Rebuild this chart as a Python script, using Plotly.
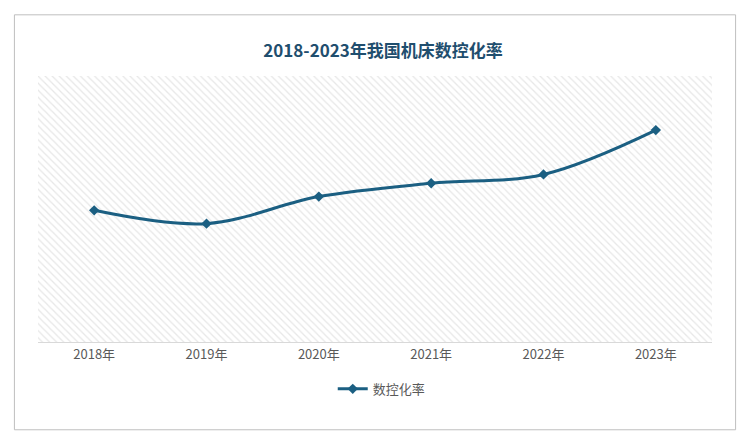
import plotly.graph_objects as go

years = ['2018年', '2019年', '2020年', '2021年', '2022年', '2023年']
rate = [29.7, 26.7, 32.8, 35.8, 37.8, 47.8]

fig = go.Figure()

# hatched background via a single bar on the base axes
fig.add_trace(go.Bar(
    x=[0], y=[1], width=[1],
    marker=dict(color='rgba(0,0,0,0)', line=dict(width=0),
                pattern=dict(shape='\\', fgcolor='#cfcfcf', bgcolor='white', size=5, solidity=0.25)),
    showlegend=False, hoverinfo='skip'
))

fig.add_trace(go.Scatter(
    x=years, y=rate, name='数控化率', mode='lines+markers', xaxis='x2', yaxis='y2',
    line=dict(color='#1b5f82', width=3, shape='spline'),
    marker=dict(symbol='diamond', size=8, color='#1b5f82')
))

fig.update_layout(
    width=750, height=440,
    paper_bgcolor='white', plot_bgcolor='white',
    margin=dict(l=30, r=46, t=68, b=106),
    font=dict(family='Noto Sans CJK SC', color='#595959'),
    title=dict(text='<b>2018-2023年我国机床数控化率</b>', x=0.5, y=0.915,
               xanchor='center', font=dict(size=17, color='#1f4e6e')),
    xaxis=dict(range=[-0.5, 0.5], visible=False),
    yaxis=dict(range=[0, 1], visible=False),
    xaxis2=dict(overlaying='x', showgrid=False, showline=True, linecolor='#d9d9d9',
                range=[-0.5, 5.5], tickfont=dict(size=13, color='#595959'), ticks='', side='bottom'),
    yaxis2=dict(overlaying='y', range=[0, 60], visible=False),
    bargap=0,
    legend=dict(orientation='h', x=0.51, xanchor='center', y=-0.12,
                font=dict(size=13, color='#595959')),
    shapes=[dict(type='rect', xref='paper', yref='paper', x0=-0.035, x1=1.035,
                 y0=-0.33, y1=1.23, line=dict(color='#bfbfbf', width=1))]
)

fig.write_html('out.html')
